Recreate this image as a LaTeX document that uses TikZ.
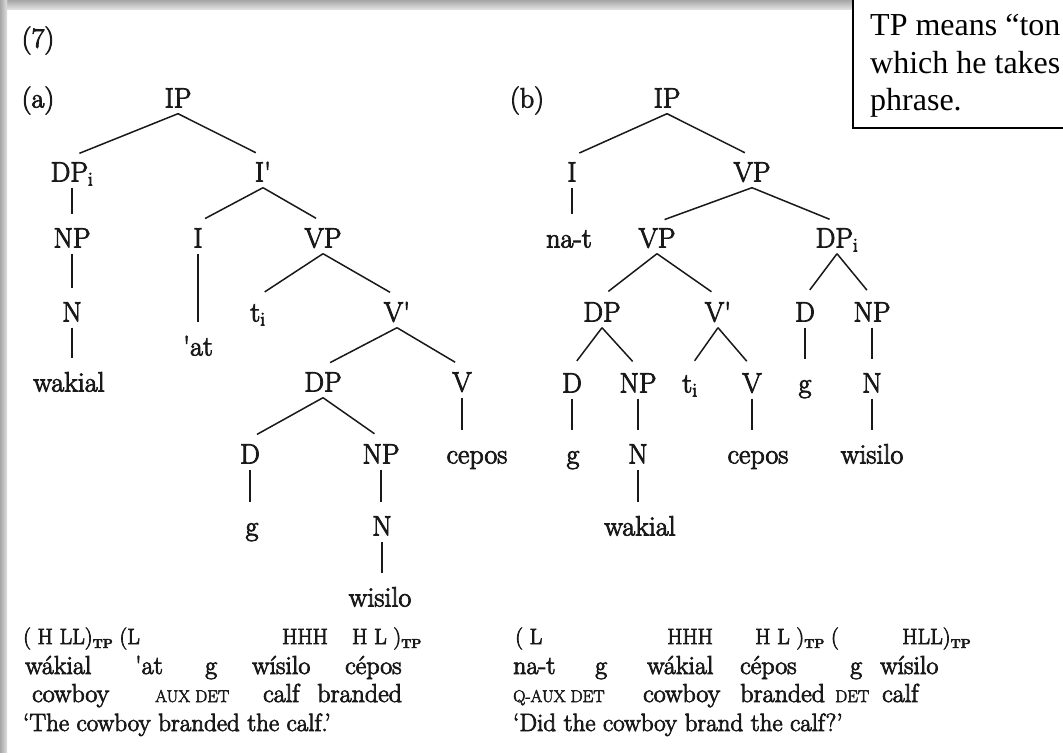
\documentclass[tikz,border=0pt]{standalone}
\usepackage{fontspec}
\setmainfont{Latin Modern Roman}[RawFeature = {embolden=3}]
\newfontfamily\notefont{Liberation Serif}
\definecolor{ink}{gray}{0.1}
\newcommand{\treefont}{\fontsize{28}{28}\selectfont}
\newcommand{\glossfont}{\fontsize{26}{26}\selectfont}
\newcommand{\tonefont}{\fontsize{22}{22}\selectfont}
\newcommand{\gsc}[1]{{\fontsize{17}{17}\selectfont #1}}
\newcommand{\tpsub}{\raisebox{-4pt}{\fontsize{13}{13}\selectfont\bfseries TP}}
\tikzset{lbl/.style = {font = \treefont, text = ink, inner xsep = 1pt, inner ysep = 6pt, text height = 19pt, text depth = 0pt}}
\tikzset{br/.style = {draw = ink, line width = 1.5pt, shorten >= 8pt}}
\tikzset{gl/.style = {font = \glossfont, text = ink, anchor = base west, inner sep = 0}}
\tikzset{tn/.style = {gl, font = \tonefont}}
\tikzset{note/.style = {font = \notefont\fontsize{32}{32}\selectfont, anchor = base west, inner sep = 0}}

\begin{document}
\begin{tikzpicture}[x = 1pt, y = -1pt]
      \clip (0, 0) rectangle (1063, 755);
      \fill [white] (0, 0) rectangle (1063, 755);
      % page shadow
      \shade [top color = gray!70, bottom color = gray!25] (0, 0) rectangle (1063, 9);
      \shade [left color = gray!70, right color = gray!25] (0, 0) rectangle (7, 752);

      % note box
      \draw [line width = 1.5pt, fill = white] (853, -10) rectangle (1075, 128);
      \foreach \t [count = \k] in {TP means “ton, which he takes, phrase.} {
        \node [note] (note\k) at (870, -2 + 37.5*\k) {\t};
      }

      \node [lbl] (seven) at (38, 38) {(7)};

      % tree (a)
      \node [lbl] (lbla) at (38, 98) {(a)};
      \node [lbl] (ipa) at (178, 98) {IP};
      \node [lbl] (dpa) at (72, 172) {DP\textsubscript{i}};
      \node [lbl] (ibara) at (263, 172) {I\textquotesingle};
      \node [lbl] (npa) at (72, 238) {NP};
      \node [lbl] (ia) at (198, 238) {I};
      \node [lbl] (vpa) at (323, 238) {VP};
      \node [lbl] (na) at (72, 312) {N};
      \node [lbl] (tia) at (258, 312) {t\textsubscript{i}};
      \node [lbl] (vbara) at (397, 312) {V\textquotesingle};
      \node [lbl] (ata) at (198, 346) {\textquotesingle at};
      \node [lbl] (waka) at (69, 382) {wakial};
      \node [lbl] (dpb) at (323, 382) {DP};
      \node [lbl] (va) at (462, 382) {V};
      \node [lbl] (da) at (250, 454) {D};
      \node [lbl] (npb) at (381, 454) {NP};
      \node [lbl] (cepa) at (477, 454) {cepos};
      \node [lbl] (ga) at (252, 526) {g};
      \node [lbl] (nb) at (382, 526) {N};
      \node [lbl] (wisa) at (380, 597) {wisilo};

      \foreach \a/\b in {ipa/dpa, ipa/ibara, ibara/ia, ibara/vpa, vpa/tia, vpa/vbara, vbara/dpb, vbara/va, dpb/da, dpb/npb} {
        \draw [br] (\a.south) -- (\b.north);
      }
      \foreach \a/\b in {dpa/npa, npa/na, na/waka, ia/ata, va/cepa, da/ga, npb/nb, nb/wisa} {
        \draw [br] (\a.south) -- (\a.south |- \b.north);
      }

      % tree (b)
      \node [lbl] (lblb) at (527, 98) {(b)};
      \node [lbl] (ipb) at (667, 98) {IP};
      \node [lbl] (ib) at (572, 172) {I};
      \node [lbl] (vpb) at (752, 172) {VP};
      \node [lbl] (natb) at (569, 238) {na-t};
      \node [lbl] (vpc) at (657, 238) {VP};
      \node [lbl] (dpc) at (837, 238) {DP\textsubscript{i}};
      \node [lbl] (dpd) at (602, 312) {DP};
      \node [lbl] (vbarb) at (718, 312) {V\textquotesingle};
      \node [lbl] (db) at (805, 312) {D};
      \node [lbl] (npc) at (872, 312) {NP};
      \node [lbl] (dc) at (572, 383) {D};
      \node [lbl] (npd) at (638, 383) {NP};
      \node [lbl] (tib) at (690, 383) {t\textsubscript{i}};
      \node [lbl] (vb) at (752, 383) {V};
      \node [lbl] (gb) at (805, 383) {g};
      \node [lbl] (nc) at (872, 383) {N};
      \node [lbl] (gc) at (573, 454) {g};
      \node [lbl] (nd) at (638, 454) {N};
      \node [lbl] (cepb) at (758, 454) {cepos};
      \node [lbl] (wisb) at (872, 454) {wisilo};
      \node [lbl] (wakb) at (640, 526) {wakial};

      \foreach \a/\b in {ipb/ib, ipb/vpb, vpb/vpc, vpb/dpc, vpc/dpd, vpc/vbarb, dpc/db, dpc/npc, dpd/dc, dpd/npd, vbarb/tib, vbarb/vb} {
        \draw [br] (\a.south) -- (\b.north);
      }
      \foreach \a/\b in {ib/natb, db/gb, npc/nc, nc/wisb, dc/gc, npd/nd, nd/wakb, vb/cepb} {
        \draw [br] (\a.south) -- (\a.south |- \b.north);
      }

      % glosses (a)
      \foreach \x/\w [count = \k] in {23/{( H LL)\tpsub\ (L}, 282/HHH, 352/{H L )\tpsub}} {
        \node [tn] (toa\k) at (\x, 644) {\w};
      }
      \foreach \x/\w [count = \k] in {25/w\'akial, 135/{\textquotesingle at}, 205/g, 252/w\'{\i}silo, 345/c\'epos} {
        \node [gl] (wda\k) at (\x, 674) {\w};
      }
      \foreach \x/\w [count = \k] in {32/cowboy, 155/{\gsc{AUX DET}}, 263/calf, 317/branded} {
        \node [gl] (gla\k) at (\x, 702) {\w};
      }
      \node [gl, font = \fontsize{25}{25}\selectfont] (trla) at (23, 731) {‘The cowboy branded the calf.’};

      % glosses (b)
      \foreach \x/\w [count = \k] in {515/{( L}, 667/HHH, 755/{H L )\tpsub\ (}, 902/{HLL)\tpsub}} {
        \node [tn] (tob\k) at (\x, 644) {\w};
      }
      \foreach \x/\w [count = \k] in {513/na-t, 595/g, 647/w\'akial, 740/c\'epos, 850/g, 880/w\'{\i}silo} {
        \node [gl] (wdb\k) at (\x, 674) {\w};
      }
      \foreach \x/\w [count = \k] in {513/{\gsc{Q-AUX DET}}, 643/cowboy, 740/branded, 835/{\gsc{DET}}, 882/calf} {
        \node [gl] (glb\k) at (\x, 702) {\w};
      }
      \node [gl, font = \fontsize{25}{25}\selectfont] (trlb) at (513, 731) {‘Did the cowboy brand the calf?’};
\end{tikzpicture}
\end{document}
